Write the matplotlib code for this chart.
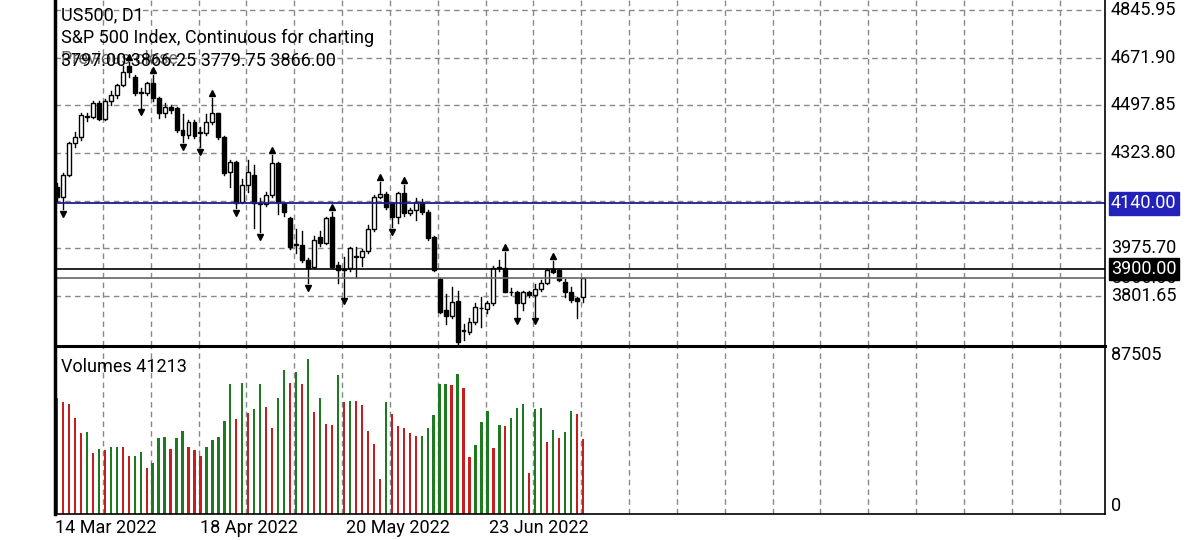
import matplotlib
matplotlib.use("Agg")
import matplotlib.pyplot as plt
from matplotlib.patches import Rectangle

plt.rcParams['font.family'] = ['Roboto', 'DejaVu Sans']

opens = [4201,4164,4244,4359,4381,4457,4457,4505,4447,4515,4536,4572,4640,4603,4542,4542,4578,4524,4469,4493,
         4488,4408,4390,4438,4396,4396,4438,4469,4381,4256,4292,4146,4207,4244,4140,4136,4170,4286,4140,4085,
         3988,3988,3933,3909,4018,3994,4092,3915,3897,3903,3948,3943,3967,4045,4165,4174,4140,4092,4177,4104,
         4116,4146,4110,4018,3863,3751,3729,3784,3674,3671,3708,3757,3753,3778,3909,3903,3818,3818,3775,3818,
         3806,3826,3848,3899,3897,3854,3818,3793,3797.00]
highs = [4215,4250,4365,4400,4470,4470,4515,4515,4520,4550,4575,4640,4655,4610,4560,4582,4610,4528,4505,4500,
         4492,4465,4445,4445,4420,4465,4525,4470,4385,4300,4295,4230,4300,4280,4160,4180,4316,4290,4145,4090,
         4045,4040,3940,4020,4040,4090,4110,3925,3945,3980,3982,3975,4060,4170,4219,4180,4145,4180,4207,4125,
         4160,4155,4115,4020,3868,3810,3835,3820,3700,3720,3775,3800,3785,3910,3935,3962,3830,3822,3822,3822,
         3845,3860,3900,3930,3902,3865,3835,3800,3866.25]
lows = [4150,4120,4240,4345,4370,4440,4450,4445,4445,4500,4525,4570,4600,4535,4490,4535,4515,4450,4455,4470,
        4400,4365,4380,4380,4345,4390,4430,4375,4245,4200,4122,4140,4180,4050,4037,4130,4165,4100,4095,3975,
        3960,3925,3850,3905,3985,3990,3905,3850,3800,3895,3870,3910,3960,4040,4160,4120,4055,4070,4095,4098,
        4080,4100,4005,3895,3740,3700,3720,3628,3640,3665,3700,3690,3740,3770,3895,3815,3805,3727,3750,3800,
        3727,3820,3845,3885,3855,3800,3780,3720,3779.75]
closes = [4164,4244,4359,4381,4463,4460,4505,4447,4515,4536,4572,4621,4621,4542,4545,4578,4524,4469,4493,4481,
          4408,4390,4438,4386,4400,4438,4469,4381,4250,4292,4140,4207,4256,4140,4136,4170,4286,4146,4110,3982,
          3990,3933,3903,4006,3994,4085,3909,3897,3900,3976,3945,3967,4045,4165,4174,4128,4092,4177,4104,4116,
          4146,4110,4012,3897,3745,3729,3781,3635,3676,3708,3763,3760,3778,3903,3903,3818,3815,3775,3818,3806,
          3826,3848,3897,3891,3860,3818,3787,3785,3866.00]
volumes = [64240,61840,60920,53160,44660,45220,33580,35980,35060,36910,37100,36700,31740,31900,34140,25450,28410,42080,42450,35800,
           42080,45590,36720,35240,32100,36910,40600,42450,51130,71450,52610,72180,55750,57780,71450,59070,47430,64060,79390,72370,
           78460,72000,85300,56300,64240,49840,49280,76620,61840,62400,62210,60360,45770,38760,19360,61650,55010,48360,47620,44850,
           42820,43190,47250,54820,71630,72000,71260,77170,69410,31180,37830,50760,56850,36540,49280,48730,52790,58330,60550,22680,
           58150,58700,39860,46510,42080,45400,57040,55010,41213]
volume_colors = list("rrrrrgrgrggrrggrgggrggrrrgggggrgrggrrggrgrgrgr"
                     "rgrgrrrrrgrrrrrgggggrgrrgggrgrgggrggrgrggrr")
fractal_up = [12,16,26,36,46,54,58,75,83]
fractal_down = [1,14,21,24,30,34,42,48,56,67,77,80]
price_ticks = [4845.95,4671.90,4497.85,4323.80,3975.70,3801.65]
date_labels = ["14 Mar 2022","18 Apr 2022","20 May 2022","23 Jun 2022"]
date_idx = [-0.3,24,48.3,72.2]
line_blue = 4140.00
line_black = 3900.00
bid = 3866.00

W,H = 1200,540
FS = 13
fig = plt.figure(figsize=(12,5.4), dpi=100)
def ax_px(x0,y0,x1,y1):
    return fig.add_axes([x0/W, 1-y1/H, (x1-x0)/W, (y1-y0)/H])

XL = (-0.33, 175.3)
ax = ax_px(55,0,1105,346)
axv = ax_px(55,346,1105,514)
for a in (ax,axv):
    a.set_xlim(*XL)
    for s in ['top','left','right','bottom']:
        a.spines[s].set_visible(False)
    a.set_xticks([]); a.set_yticks([])
    for k in range(1,22):
        a.axvline(8*k-0.3, color='#888888', ls=(0,(4,3)), lw=1, zorder=0)

ax.set_ylim(3619.5, 4882.45)
for p in price_ticks+[4149.75]:
    ax.axhline(p, color='#888888', ls=(0,(4,3)), lw=1, zorder=0)

n = len(opens)
for i in range(n):
    o,h,l,c = opens[i],highs[i],lows[i],closes[i]
    ax.plot([i,i],[l,h], color='black', lw=1, zorder=2)
    lo, hi = min(o,c), max(o,c)
    if hi-lo < 3: hi = lo+3
    ax.add_patch(Rectangle((i-0.33,lo),0.66,hi-lo, facecolor='white' if c>=o else 'black',
                           edgecolor='black', lw=1, zorder=3))
for i in fractal_up:
    ax.plot(i, highs[i]+18, marker='^', color='black', ms=5, zorder=4)
for i in fractal_down:
    ax.plot(i, lows[i]-18, marker='v', color='black', ms=5, zorder=4)

ax.axhline(line_blue, color='#1a1a9a', lw=1.3, zorder=5)
ax.axhline(line_black, color='black', lw=1.2, zorder=5)
ax.axhline(bid, color='#666666', lw=1.2, zorder=5)

ax.text(0.006, 0.94, "US500, D1", transform=ax.transAxes, fontsize=FS)
ax.text(0.006, 0.875, "S&P 500 Index, Continuous for charting", transform=ax.transAxes, fontsize=FS)
ax.text(0.006, 0.81, "3797.00 3866.25 3779.75 3866.00", transform=ax.transAxes, fontsize=FS)
ax.text(0.006, 0.815, "Previous close", transform=ax.transAxes, fontsize=FS, alpha=0.6)

for p in price_ticks:
    ax.text(XL[1]+1, p, f"{p:.2f}", fontsize=FS, va='center', ha='left', clip_on=False)
ax.text(XL[1]+1, bid, f"{bid:.2f}", fontsize=FS, va='center', ha='left', clip_on=False, zorder=6)
ax.text(XL[1]+1, line_blue, f"{line_blue:.2f}", fontsize=FS, va='center', ha='left', color='white',
        clip_on=False, bbox=dict(boxstyle='square,pad=0.12', fc='#2222bb', ec='#2222bb'), zorder=7)
ax.text(XL[1]+1, line_black, f"{line_black:.2f}", fontsize=FS, va='center', ha='left', color='white',
        clip_on=False, bbox=dict(boxstyle='square,pad=0.12', fc='black', ec='black'), zorder=7)

axv.set_ylim(0, 92690)
cmap = {'r': '#c41e1e', 'g': '#1e7a1e'}
for i in range(n):
    axv.bar(i, volumes[i], width=0.38, color=cmap[volume_colors[i]], zorder=2)
axv.text(0.006, 0.93, f"Volumes {volumes[-1]}", transform=axv.transAxes, fontsize=FS, va='top')
axv.text(XL[1]+1, 87505, "87505", fontsize=FS, va='center', ha='left', clip_on=False)
axv.text(XL[1]+1, 4500, "0", fontsize=FS, va='center', ha='left', clip_on=False)
for d,t in zip(date_idx, date_labels):
    axv.text(d, -2500, t, fontsize=FS, va='top', ha='left', clip_on=False)

fig.add_artist(plt.Line2D([55/W,55/W],[1-0/H,1-514/H], color='black', lw=2.5))
fig.add_artist(plt.Line2D([1105/W,1105/W],[1-0/H,1-514/H], color='black', lw=1.2))
fig.add_artist(plt.Line2D([55/W,1105/W],[1-346/H,1-346/H], color='black', lw=2.2))
fig.add_artist(plt.Line2D([55/W,1105/W],[1-514/H,1-514/H], color='black', lw=1.2))

fig.savefig("out.png", dpi=100)
